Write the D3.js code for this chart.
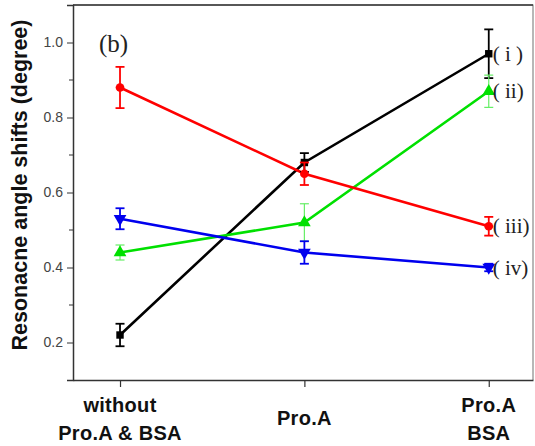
<!DOCTYPE html>
<html>
<head>
<meta charset="utf-8">
<script src="https://cdn.jsdelivr.net/npm/d3@7"></script>
<style>
  body { margin: 0; background: #fff; }
  svg { display: block; }
</style>
</head>
<body>
<div id="chart"></div>
<script>
// conditions along x
var categories = ["without|Pro.A & BSA", "Pro.A", "Pro.A|BSA"];
var yTicks = [0.2, 0.4, 0.6, 0.8, 1.0];

// values (mean, error)
var seriesI = [0.22, 0.68, 0.97];
var errI = [0.03, 0.025, 0.065];
var seriesII = [0.44, 0.52, 0.87];
var errII = [0.02, 0.05, 0.043];
var seriesIII = [0.88, 0.65, 0.51];
var errIII = [0.055, 0.03, 0.025];
var seriesIV = [0.53, 0.44, 0.40];
var errIV = [0.028, 0.03, 0.01];
var labels = ["( i )", "( ii)", "( iii)", "( iv)"];

var W = 535, H = 446;
var m = { left: 73, right: 2, top: 5, bottom: 66 };

var svg = d3.select("#chart").append("svg").attr("width", W).attr("height", H);

var x = d3.scaleLinear().domain([-0.255, 2.24]).range([m.left, W - m.right]);
var y = d3.scaleLinear().domain([0.1, 1.1]).range([H - m.bottom, m.top]);

// frame (top and right)
svg.append("path")
  .attr("d", "M" + m.left + "," + m.top + "H" + (W - m.right) + "V" + (H - m.bottom))
  .attr("fill", "none").attr("stroke", "#888").attr("stroke-width", 1.2);
svg.append("line").attr("x1", m.left).attr("x2", W - m.right).attr("y1", m.top).attr("y2", m.top)
  .attr("stroke", "#333").attr("stroke-width", 1.5);

// y axis
var yAxis = d3.axisLeft(y).tickValues(yTicks).tickFormat(d3.format(".1f")).tickSize(6).tickPadding(4);
var gy = svg.append("g").attr("transform", "translate(" + m.left + ",0)").call(yAxis);
gy.select(".domain").attr("stroke", "#333").attr("stroke-width", 1.5);
gy.selectAll(".tick line").attr("stroke", "#333");
gy.selectAll(".tick text").attr("font-family", "Liberation Sans, Arial, sans-serif")
  .attr("font-size", 14).attr("fill", "#444");
gy.selectAll("line.minor").data([0.3, 0.5, 0.7, 0.9]).enter().append("line")
  .attr("class", "minor").attr("x1", -4).attr("x2", 0)
  .attr("y1", function (d) { return y(d); }).attr("y2", function (d) { return y(d); })
  .attr("stroke", "#333");

// x axis
var xAxis = d3.axisBottom(x).tickValues([0, 1, 2]).tickFormat("").tickSize(7).tickSizeOuter(0);
var gx = svg.append("g").attr("transform", "translate(0," + (H - m.bottom) + ")").call(xAxis);
gx.select(".domain").attr("stroke", "#333").attr("stroke-width", 1.5);
gx.selectAll(".tick line").attr("stroke", "#333").attr("stroke-width", 1.2);

categories.forEach(function (c, i) {
  var parts = c.split("|");
  var t = svg.append("text").attr("x", x(i)).attr("text-anchor", "middle")
    .attr("font-family", "Liberation Sans, Arial, sans-serif").attr("font-weight", "bold")
    .attr("font-size", 20).attr("fill", "#111").attr("letter-spacing", 0.3);
  if (parts.length === 1) {
    t.attr("y", 425).text(parts[0]);
  } else {
    t.append("tspan").attr("x", x(i)).attr("y", 412).text(parts[0]);
    t.append("tspan").attr("x", x(i)).attr("y", 440).text(parts[1]);
  }
});

// y label
svg.append("text")
  .attr("transform", "translate(27," + 185 + ") rotate(-90)")
  .attr("text-anchor", "middle")
  .attr("font-family", "Liberation Sans, Arial, sans-serif").attr("font-weight", "bold")
  .attr("font-size", 21.5).attr("fill", "#111")
  .text("Resonacne angle shifts (degree)");

// panel tag
svg.append("text").attr("x", 99).attr("y", 52)
  .attr("font-family", "Liberation Serif, Times New Roman, serif").attr("font-size", 25)
  .attr("fill", "#222").text("(b)");

var series = [
  { vals: seriesI, err: errI, color: "#000000", errColor: "#000000", errW: 1.8, sym: d3.symbolSquare, size: 55, rot: 0 },
  { vals: seriesII, err: errII, color: "#00e000", errColor: "#66ee66", errW: 1.2, sym: d3.symbolTriangle, size: 70, rot: 0 },
  { vals: seriesIII, err: errIII, color: "#ff0000", errColor: "#ff0000", errW: 1.8, sym: d3.symbolCircle, size: 60, rot: 0 },
  { vals: seriesIV, err: errIV, color: "#0000ee", errColor: "#0000ee", errW: 1.8, sym: d3.symbolTriangle, size: 70, rot: 180 }
];

var line = d3.line().x(function (d, i) { return x(i); }).y(function (d) { return y(d); });

series.forEach(function (s) {
  svg.append("path").datum(s.vals).attr("d", line)
    .attr("fill", "none").attr("stroke", s.color).attr("stroke-width", 2.6);
});

series.forEach(function (s) {
  var g = svg.append("g");
  s.vals.forEach(function (v, i) {
    var cx = x(i), top = y(v + s.err[i]), bot = y(v - s.err[i]);
    g.append("line").attr("x1", cx).attr("x2", cx).attr("y1", top).attr("y2", bot)
      .attr("stroke", s.errColor).attr("stroke-width", s.errW);
    [top, bot].forEach(function (yy) {
      g.append("line").attr("x1", cx - 4.5).attr("x2", cx + 4.5).attr("y1", yy).attr("y2", yy)
        .attr("stroke", s.errColor).attr("stroke-width", s.errW);
    });
    g.append("path").attr("d", d3.symbol().type(s.sym).size(s.size)())
      .attr("transform", "translate(" + cx + "," + y(v) + ") rotate(" + s.rot + ")")
      .attr("fill", s.color);
  });
});

// curve labels at the right end
series.forEach(function (s, k) {
  svg.append("text").attr("x", x(2) + 4).attr("y", y(s.vals[2]) + 7)
    .attr("font-family", "Liberation Serif, Times New Roman, serif").attr("font-size", 21)
    .attr("fill", "#222").text(labels[k]);
});
</script>
</body>
</html>
